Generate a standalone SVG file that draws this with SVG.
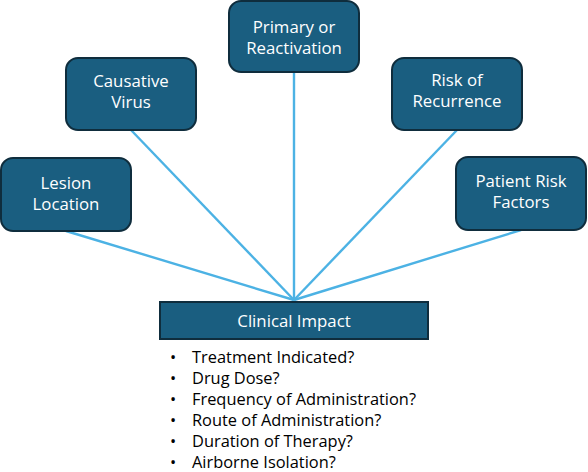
<svg xmlns="http://www.w3.org/2000/svg" width="588" height="472" viewBox="0 0 588 472">
<style>
.box{fill:#1a5e80;stroke:#0f2d3d;stroke-width:2}
.lbl{font-family:"Open Sans","Liberation Sans",sans-serif;font-size:16.8px;font-weight:500;fill:#ffffff;text-anchor:middle}
.conn{stroke:#4cb2e4;stroke-width:2.4;fill:none}
.item{font-family:"Open Sans","Liberation Sans",sans-serif;font-size:16.4px;fill:#000000}
</style>
<rect width="588" height="472" fill="#ffffff"/>
<g id="connectors">
<line class="conn" x1="66" y1="231" x2="294" y2="300"/>
<line class="conn" x1="131" y1="130" x2="294" y2="300"/>
<line class="conn" x1="294" y1="72" x2="294" y2="300"/>
<line class="conn" x1="457" y1="130" x2="294" y2="300"/>
<line class="conn" x1="521" y1="230" x2="294" y2="300"/>
</g>
<g id="lesion">
<rect class="box" x="1" y="158" width="130" height="73" rx="12"/>
<text class="lbl" x="66" y="189">Lesion</text>
<text class="lbl" x="66" y="210">Location</text>
</g>
<g id="causative">
<rect class="box" x="66" y="58" width="130" height="72" rx="12"/>
<text class="lbl" x="131" y="87">Causative</text>
<text class="lbl" x="131" y="108">Virus</text>
</g>
<g id="primary">
<rect class="box" x="229" y="1" width="130" height="71" rx="12"/>
<text class="lbl" x="294" y="33">Primary or</text>
<text class="lbl" x="294" y="54">Reactivation</text>
</g>
<g id="risk">
<rect class="box" x="392" y="58" width="130" height="72" rx="12"/>
<text class="lbl" x="457" y="86">Risk of</text>
<text class="lbl" x="457" y="107">Recurrence</text>
</g>
<g id="patient">
<rect class="box" x="456" y="157" width="130" height="73" rx="12"/>
<text class="lbl" x="521" y="187">Patient Risk</text>
<text class="lbl" x="521" y="208">Factors</text>
</g>
<g id="clinical">
<rect class="box" x="160" y="302" width="268" height="37"/>
<text class="lbl" x="294" y="327">Clinical Impact</text>
</g>
<g id="list">
<text class="item" x="170" y="363">•</text><text class="item" x="192" y="363">Treatment Indicated?</text>
<text class="item" x="170" y="384">•</text><text class="item" x="192" y="384">Drug Dose?</text>
<text class="item" x="170" y="405">•</text><text class="item" x="192" y="405">Frequency of Administration?</text>
<text class="item" x="170" y="426">•</text><text class="item" x="192" y="426">Route of Administration?</text>
<text class="item" x="170" y="447">•</text><text class="item" x="192" y="447">Duration of Therapy?</text>
<text class="item" x="170" y="468">•</text><text class="item" x="192" y="468">Airborne Isolation?</text>
</g>
</svg>
